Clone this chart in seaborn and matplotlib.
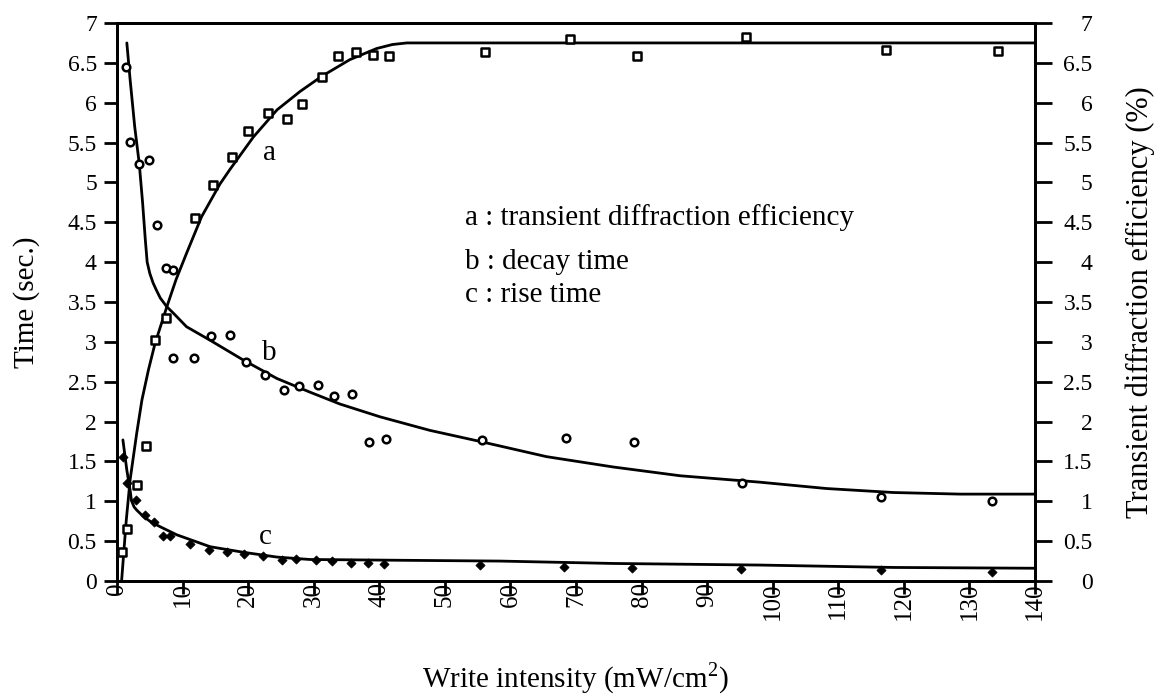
import matplotlib
matplotlib.use("Agg")
import matplotlib.pyplot as plt
import pandas as pd
import seaborn as sns

# ---- measured points -------------------------------------------------------
# a : transient diffraction efficiency (%)
a_x = [0.8, 1.5, 3.0, 4.4, 5.8, 7.4, 11.9, 14.7, 17.6, 20.0, 23.0, 26.0, 28.2,
       31.2, 33.7, 36.4, 39.1, 41.5, 56.1, 69.1, 79.3, 96.0, 117.3, 134.3]
a_y = [0.37, 0.65, 1.21, 1.69, 3.02, 3.30, 4.56, 4.97, 5.32, 5.64, 5.87, 5.79,
       5.99, 6.32, 6.58, 6.64, 6.60, 6.58, 6.64, 6.80, 6.58, 6.82, 6.66, 6.65]

# b : decay time (sec.)
b_x = [1.3, 2.0, 3.4, 4.9, 6.1, 7.4, 8.6, 8.6, 11.7, 14.4, 17.2, 19.6, 22.5,
       25.5, 27.7, 30.7, 33.1, 35.9, 38.5, 41.0, 55.6, 68.4, 78.8, 95.3, 116.5,
       133.5]
b_y = [6.45, 5.51, 5.23, 5.28, 4.46, 3.93, 3.90, 2.80, 2.80, 3.07, 3.09, 2.75,
       2.58, 2.40, 2.45, 2.46, 2.32, 2.34, 1.75, 1.78, 1.77, 1.80, 1.74, 1.23,
       1.06, 1.00]

# c : rise time (sec.)
c_x = [0.9, 1.5, 2.9, 4.3, 5.7, 7.0, 8.1, 11.2, 14.0, 16.7, 19.3, 22.3, 25.2,
       27.3, 30.3, 32.8, 35.7, 38.3, 40.7, 55.4, 68.2, 78.6, 95.2, 116.5, 133.4]
c_y = [1.55, 1.23, 1.01, 0.83, 0.74, 0.56, 0.56, 0.46, 0.39, 0.37, 0.34, 0.31,
       0.26, 0.28, 0.26, 0.25, 0.23, 0.22, 0.21, 0.20, 0.18, 0.16, 0.15, 0.14,
       0.11]

# ---- fitted curves ---------------------------------------------------------
fit_a_x = [0.7, 1.4, 2.0, 3.0, 3.8, 4.8, 5.8, 7.6, 9.0, 10.6, 12.9, 15.7, 17.2,
           20.8, 24.4, 27.9, 31.2, 35.5, 39.6, 42.0, 44.2, 58.0, 140.0]
fit_a_y = [0.00, 0.75, 1.27, 1.85, 2.27, 2.65, 2.98, 3.44, 3.78, 4.11, 4.57,
           4.98, 5.16, 5.57, 5.91, 6.14, 6.33, 6.54, 6.68, 6.73, 6.75, 6.75,
           6.75]

fit_b_x = [1.5, 2.0, 2.7, 3.4, 3.9, 4.3, 4.6, 5.0, 5.5, 6.0, 6.6, 7.6, 8.6,
           10.6, 14.2, 19.3, 24.4, 29.4, 34.0, 40.1, 47.7, 55.4, 65.5, 75.7,
           85.9, 98.0, 108.2, 118.4, 128.6, 140.0]
fit_b_y = [6.75, 6.29, 5.70, 5.23, 4.75, 4.30, 4.00, 3.86, 3.74, 3.65, 3.55,
           3.44, 3.36, 3.19, 3.02, 2.77, 2.54, 2.37, 2.22, 2.06, 1.89, 1.75,
           1.56, 1.43, 1.32, 1.24, 1.16, 1.11, 1.09, 1.09]

fit_c_x = [0.9, 1.5, 2.0, 2.2, 2.6, 3.0, 4.0, 5.2, 6.6, 9.1, 14.2, 19.3, 24.4,
           29.4, 43.2, 58.4, 75.7, 98.0, 118.4, 140.0]
fit_c_y = [1.77, 1.39, 1.14, 1.01, 0.93, 0.89, 0.81, 0.74, 0.68, 0.58, 0.43,
           0.36, 0.30, 0.27, 0.26, 0.25, 0.22, 0.20, 0.17, 0.16]

x_ticks = list(range(0, 141, 10))
y_ticks = [0, 0.5, 1, 1.5, 2, 2.5, 3, 3.5, 4, 4.5, 5, 5.5, 6, 6.5, 7]
y_tick_labels = ["0", "0.5", "1", "1.5", "2", "2.5", "3", "3.5", "4", "4.5",
                 "5", "5.5", "6", "6.5", "7"]

legend_lines = ["a : transient diffraction efficiency",
                "b : decay time",
                "c : rise time"]

# ---- style -----------------------------------------------------------------
sns.set_theme(style="ticks")
plt.rcParams["font.family"] = ["Liberation Serif", "DejaVu Serif"]
plt.rcParams["mathtext.fontset"] = "stix"
plt.rcParams["axes.linewidth"] = 2.0
plt.rcParams["axes.edgecolor"] = "black"
plt.rcParams["text.color"] = "black"
plt.rcParams["axes.labelcolor"] = "black"
plt.rcParams["xtick.color"] = "black"
plt.rcParams["ytick.color"] = "black"

fig = plt.figure(figsize=(11.55, 6.94), dpi=100)
ax = fig.add_axes([117 / 1155, 1 - 581 / 694, (1035 - 117) / 1155,
                   (581 - 23) / 694])

pts_a = pd.DataFrame({"x": a_x, "y": a_y})
pts_b = pd.DataFrame({"x": b_x, "y": b_y})
pts_c = pd.DataFrame({"x": c_x, "y": c_y})
crv_a = pd.DataFrame({"x": fit_a_x, "y": fit_a_y})
crv_b = pd.DataFrame({"x": fit_b_x, "y": fit_b_y})
crv_c = pd.DataFrame({"x": fit_c_x, "y": fit_c_y})

line_kw = dict(color="black", linewidth=2.0, sort=False, estimator=None)
for crv in (crv_a, crv_b, crv_c):
    sns.lineplot(data=crv, x="x", y="y", ax=ax, **line_kw)

sns.scatterplot(data=pts_a, x="x", y="y", ax=ax, marker="s", s=30,
                facecolor="white", edgecolor="black", linewidth=1.8, zorder=3)
sns.scatterplot(data=pts_b, x="x", y="y", ax=ax, marker="o", s=30,
                facecolor="white", edgecolor="black", linewidth=1.8, zorder=3)
sns.scatterplot(data=pts_c, x="x", y="y", ax=ax, marker="D", s=22,
                color="black", edgecolor="black", linewidth=0.5, zorder=3)

ax.set_xlim(0, 140)
ax.set_ylim(0, 7)
ax.set_xticks(x_ticks)
ax.set_xticklabels([str(v) for v in x_ticks], rotation=90, va="top",
                   ha="center")
ax.set_yticks(y_ticks)
ax.set_yticklabels(y_tick_labels)
ax.tick_params(axis="x", direction="out", length=9, width=2.0, pad=-8,
               labelsize=18)
ax.tick_params(axis="y", direction="out", length=9.5, width=2.0, pad=5,
               labelsize=17)

ax.set_xlabel(r"Write intensity (mW/cm$^{\mathregular{2}}$)", fontsize=21,
              labelpad=30)
ax.set_ylabel("Time (sec.)", fontsize=21, labelpad=20)

# right-hand axis shares the same 0-7 scale
ax2 = ax.twinx()
ax2.set_ylim(0, 7)
ax2.set_yticks(y_ticks)
ax2.set_yticklabels(y_tick_labels, ha="right")
ax2.tick_params(axis="y", direction="out", length=12.5, width=2.0, pad=29,
                labelsize=17)
ax2.set_ylabel("Transient diffraction efficiency (%)", fontsize=22,
               labelpad=24)
for side in ("left", "right", "top", "bottom"):
    ax2.spines[side].set_linewidth(2.0)

# curve labels
ax.text(23.2, 5.37, "a", fontsize=21, ha="center", va="center")
ax.text(23.2, 2.86, "b", fontsize=21, ha="center", va="center")
ax.text(22.6, 0.55, "c", fontsize=21, ha="center", va="center")

# key
for ty, txt in zip([4.46, 3.92, 3.50], legend_lines):
    ax.text(53.1, ty, txt, fontsize=21, ha="left", va="baseline")

fig.savefig("out.png", dpi=100, facecolor="white")
